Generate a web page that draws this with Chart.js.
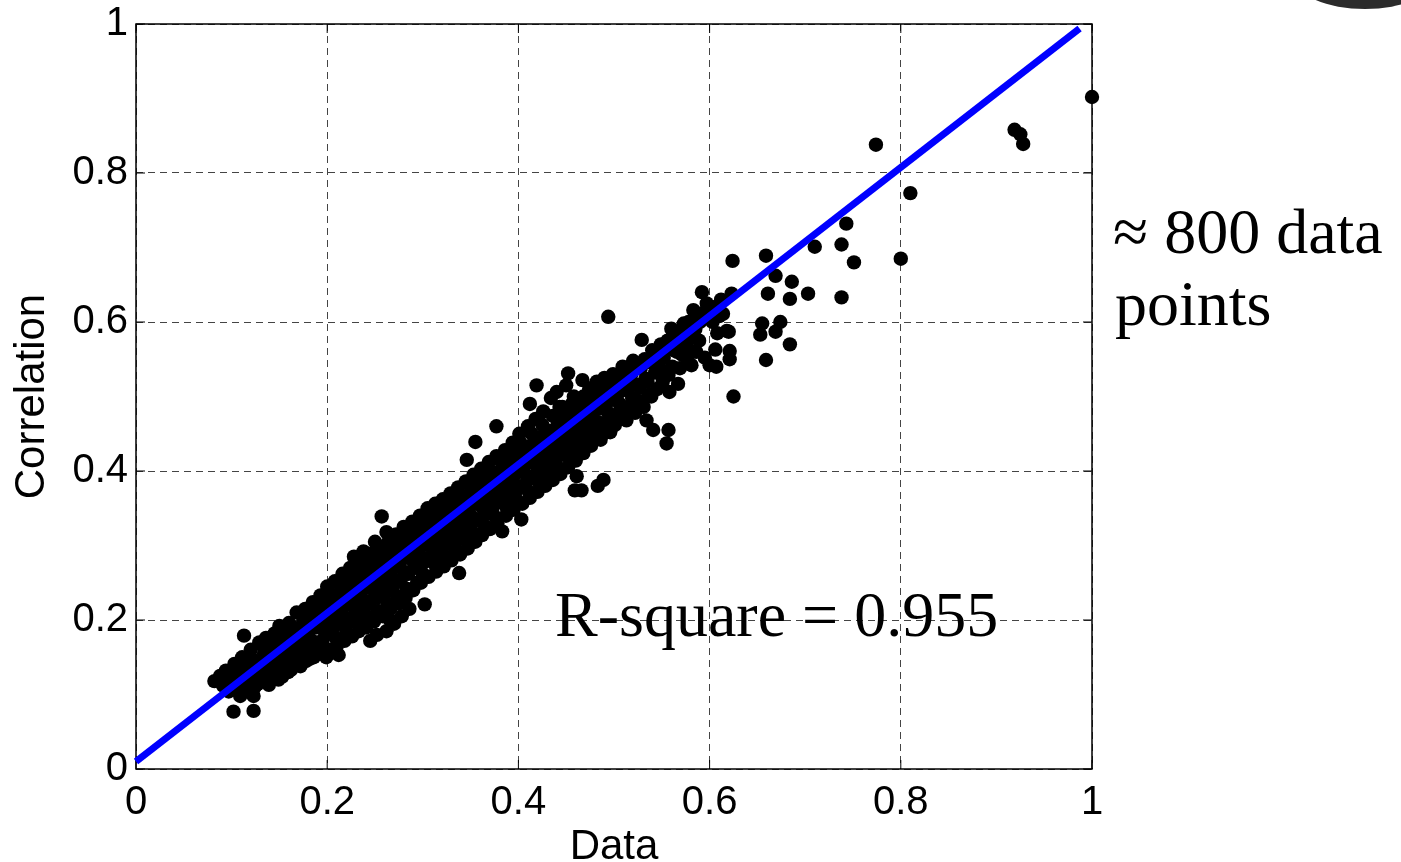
<!DOCTYPE html>
<html>
<head>
<meta charset="utf-8">
<script src="https://cdn.jsdelivr.net/npm/chart.js@4.4.1/dist/chart.umd.min.js"></script>
<style>
  html, body { margin: 0; padding: 0; background: #fff; }
  #wrap { width: 1401px; height: 862px; position: relative; }
</style>
</head>
<body>
<div id="wrap"><canvas id="chart" width="1401" height="862"></canvas></div>
<script>
// tick labels
var xTicks = [0, 0.2, 0.4, 0.6, 0.8, 1];
var yTicks = [0, 0.2, 0.4, 0.6, 0.8, 1];

// fitted line end points
var fitX = [0, 0.987];
var fitY = [0.01, 0.994];

// data points [Data, Correlation]
var pointsLow = [
  [0.082,0.118],[0.088,0.125],[0.091,0.112],[0.094,0.132],[0.097,0.104],[0.099,0.121],[0.102,0.077],[0.103,0.141],
  [0.105,0.110],[0.107,0.128],[0.109,0.098],[0.111,0.150],[0.113,0.179],[0.114,0.118],[0.116,0.136],[0.118,0.107],
  [0.120,0.160],[0.121,0.125],[0.123,0.078],[0.123,0.098],[0.125,0.145],[0.127,0.114],[0.129,0.170],[0.130,0.132],
  [0.132,0.120],[0.134,0.155],[0.136,0.176],[0.137,0.140],[0.139,0.113],[0.141,0.162],[0.143,0.127],[0.145,0.182],
  [0.146,0.148],[0.148,0.135],[0.150,0.192],[0.151,0.167],[0.153,0.124],[0.155,0.155],[0.157,0.140],[0.158,0.178],
  [0.160,0.196],[0.162,0.133],[0.163,0.162],[0.165,0.148],[0.166,0.186],[0.168,0.210],[0.170,0.140],[0.171,0.172],
  [0.173,0.156],[0.175,0.198],[0.177,0.215],[0.178,0.145],[0.180,0.182],[0.181,0.162],[0.183,0.205],[0.185,0.224],
  [0.186,0.150],[0.188,0.190],[0.190,0.170],[0.191,0.213],[0.193,0.233],[0.194,0.155],[0.196,0.198],[0.198,0.180],
  [0.199,0.222],[0.200,0.245]
];
var pointsMid = [
  [0.202,0.160],[0.203,0.205],[0.205,0.186],[0.207,0.230],[0.208,0.252],[0.210,0.165],[0.211,0.212],[0.212,0.153],
  [0.213,0.195],[0.215,0.240],[0.216,0.262],[0.218,0.172],[0.219,0.220],[0.221,0.200],[0.222,0.248],[0.224,0.270],
  [0.226,0.178],[0.227,0.228],[0.229,0.208],[0.230,0.256],[0.232,0.275],[0.233,0.185],[0.235,0.236],[0.236,0.215],
  [0.238,0.262],[0.240,0.282],[0.241,0.190],[0.243,0.244],[0.244,0.222],[0.246,0.270],[0.248,0.290],[0.249,0.198],
  [0.251,0.252],[0.252,0.230],[0.254,0.278],[0.256,0.298],[0.257,0.339],[0.258,0.205],[0.259,0.260],[0.261,0.238],
  [0.262,0.286],[0.264,0.305],[0.265,0.201],[0.266,0.215],[0.268,0.268],[0.269,0.246],[0.271,0.294],[0.272,0.315],
  [0.274,0.222],[0.276,0.276],[0.277,0.254],[0.279,0.302],[0.280,0.325],[0.282,0.230],[0.284,0.284],[0.285,0.262],
  [0.287,0.310],[0.289,0.332],[0.290,0.240],[0.292,0.292],[0.293,0.270],[0.295,0.318],[0.297,0.340],[0.298,0.250],
  [0.300,0.300]
];
var pointsUpperMid = [
  [0.302,0.221],[0.302,0.278],[0.303,0.326],[0.305,0.350],[0.306,0.258],[0.308,0.308],[0.309,0.286],[0.311,0.334],
  [0.313,0.356],[0.314,0.265],[0.316,0.316],[0.317,0.294],[0.319,0.342],[0.321,0.362],[0.322,0.272],[0.324,0.324],
  [0.325,0.302],[0.327,0.350],[0.329,0.370],[0.330,0.280],[0.332,0.332],[0.333,0.310],[0.335,0.358],[0.337,0.378],
  [0.338,0.263],[0.339,0.288],[0.340,0.340],[0.342,0.318],[0.343,0.366],[0.345,0.386],[0.346,0.415],[0.347,0.296],
  [0.348,0.348],[0.350,0.326],[0.351,0.374],[0.353,0.395],[0.355,0.439],[0.355,0.305],[0.356,0.356],[0.358,0.334],
  [0.359,0.382],[0.361,0.403],[0.362,0.314],[0.364,0.364],[0.366,0.342],[0.367,0.390],[0.369,0.412],[0.370,0.322],
  [0.372,0.372],[0.373,0.350],[0.375,0.398],[0.377,0.460],[0.377,0.420],[0.378,0.330],[0.380,0.380],[0.382,0.358],
  [0.383,0.319],[0.384,0.406],[0.386,0.428],[0.387,0.340],[0.389,0.388],[0.390,0.366],[0.392,0.414],[0.394,0.438],
  [0.395,0.348],[0.397,0.396],[0.398,0.374],[0.400,0.422]
];
var pointsHigh = [
  [0.401,0.450],[0.403,0.335],[0.404,0.356],[0.405,0.404],[0.407,0.382],[0.408,0.430],[0.410,0.460],[0.412,0.490],
  [0.412,0.364],[0.413,0.412],[0.415,0.390],[0.416,0.438],[0.418,0.470],[0.419,0.515],[0.420,0.372],[0.421,0.420],
  [0.423,0.398],[0.424,0.446],[0.426,0.480],[0.428,0.380],[0.429,0.428],[0.431,0.406],[0.432,0.454],[0.434,0.498],
  [0.435,0.396],[0.436,0.388],[0.437,0.436],[0.439,0.414],[0.440,0.506],[0.441,0.462],[0.443,0.486],[0.444,0.396],
  [0.445,0.444],[0.447,0.422],[0.448,0.470],[0.450,0.515],[0.452,0.531],[0.452,0.405],[0.453,0.452],[0.455,0.430],
  [0.456,0.478],[0.458,0.500],[0.459,0.374],[0.460,0.414],[0.461,0.393],[0.461,0.460],[0.463,0.438],[0.464,0.486],
  [0.466,0.374],[0.467,0.522],[0.468,0.424],[0.469,0.468],[0.471,0.446],[0.472,0.494],[0.474,0.510],[0.476,0.434],
  [0.477,0.476],[0.479,0.454],[0.480,0.502],[0.483,0.380],[0.482,0.520],[0.484,0.444],[0.485,0.484],[0.487,0.462],
  [0.488,0.510],[0.489,0.388],[0.490,0.525],[0.492,0.452],[0.493,0.492],[0.494,0.607],[0.495,0.470],[0.497,0.458],
  [0.497,0.515],[0.499,0.530]
];
var pointsTop = [
  [0.501,0.462],[0.503,0.500],[0.505,0.478],[0.507,0.522],[0.509,0.540],[0.511,0.470],[0.513,0.468],[0.514,0.508],
  [0.516,0.486],[0.518,0.530],[0.520,0.548],[0.522,0.478],[0.524,0.516],[0.526,0.494],[0.528,0.538],[0.529,0.576],
  [0.531,0.486],[0.533,0.524],[0.534,0.468],[0.536,0.502],[0.538,0.546],[0.540,0.562],[0.541,0.455],[0.543,0.532],
  [0.545,0.510],[0.547,0.554],[0.549,0.570],[0.551,0.520],[0.555,0.437],[0.557,0.455],[0.557,0.529],[0.558,0.506],
  [0.560,0.591],[0.561,0.540],[0.563,0.562],[0.565,0.580],[0.567,0.517],[0.569,0.538],[0.571,0.556],[0.573,0.598],
  [0.575,0.572],[0.577,0.548],[0.579,0.562],[0.581,0.542],[0.583,0.616],[0.585,0.590],[0.587,0.605],[0.589,0.575],
  [0.592,0.640],[0.593,0.612],[0.595,0.552],[0.597,0.625],[0.600,0.620],[0.600,0.542],[0.603,0.600],[0.606,0.563],
  [0.607,0.540],[0.608,0.585],[0.612,0.630],[0.614,0.611],[0.618,0.588],[0.620,0.587],[0.621,0.561],[0.621,0.550],
  [0.623,0.638],[0.624,0.682],[0.625,0.500]
];
// points hidden inside the dense band, between the ones above
var pointsFill = [
  [0.095,0.118],[0.101,0.132],[0.106,0.118],[0.110,0.140],[0.115,0.126],[0.119,0.148],[0.124,0.110],[0.126,0.133],
  [0.131,0.143],[0.133,0.165],[0.135,0.124],[0.138,0.151],[0.142,0.133],[0.144,0.172],[0.147,0.160],[0.149,0.120],
  [0.152,0.141],[0.154,0.180],[0.156,0.168],[0.159,0.130],[0.161,0.150],[0.164,0.190],[0.167,0.174],[0.169,0.158],
  [0.172,0.138],[0.174,0.185],[0.176,0.165],[0.179,0.202],[0.182,0.148],[0.184,0.172],[0.187,0.210],[0.189,0.160],
  [0.192,0.190],[0.195,0.172],[0.197,0.228],[0.199,0.150],
  [0.201,0.240],[0.204,0.218],[0.206,0.196],[0.209,0.176],[0.211,0.250],[0.214,0.228],[0.217,0.205],[0.220,0.185],
  [0.223,0.262],[0.225,0.240],[0.228,0.218],[0.231,0.196],[0.234,0.270],[0.237,0.250],[0.239,0.226],[0.242,0.205],
  [0.245,0.282],[0.247,0.260],[0.250,0.236],[0.253,0.212],[0.255,0.290],[0.258,0.268],[0.260,0.246],[0.263,0.222],
  [0.266,0.300],[0.268,0.278],[0.270,0.254],[0.273,0.232],[0.276,0.310],[0.278,0.288],[0.281,0.264],[0.283,0.242],
  [0.286,0.320],[0.288,0.298],[0.291,0.274],[0.294,0.250],[0.296,0.330],[0.299,0.310],[0.299,0.284],[0.300,0.262],
  [0.262,0.185],[0.270,0.195],[0.278,0.205],[0.286,0.215],[0.245,0.172],[0.252,0.180],
  [0.238,0.292],[0.250,0.305],[0.262,0.318],[0.228,0.285],
  [0.304,0.340],[0.307,0.320],[0.310,0.298],[0.312,0.276],[0.315,0.350],[0.318,0.330],[0.320,0.308],[0.323,0.286],
  [0.326,0.362],[0.328,0.340],[0.331,0.318],[0.334,0.296],[0.336,0.372],[0.339,0.352],[0.341,0.328],[0.344,0.308],
  [0.347,0.384],[0.349,0.362],[0.352,0.338],[0.354,0.316],[0.357,0.394],[0.360,0.372],[0.363,0.350],[0.365,0.326],
  [0.368,0.404],[0.371,0.384],[0.374,0.362],[0.376,0.338],[0.379,0.416],[0.381,0.392],[0.385,0.372],[0.388,0.350],
  [0.391,0.428],[0.393,0.404],[0.396,0.382],[0.399,0.360],
  [0.402,0.438],[0.406,0.416],[0.409,0.394],[0.411,0.372],[0.414,0.450],[0.417,0.426],[0.420,0.404],[0.422,0.384],
  [0.425,0.462],[0.427,0.440],[0.430,0.416],[0.433,0.392],[0.436,0.474],[0.438,0.452],[0.440,0.428],[0.442,0.404],
  [0.446,0.486],[0.449,0.460],[0.451,0.438],[0.454,0.414],[0.457,0.492],[0.460,0.472],[0.462,0.448],[0.465,0.424],
  [0.468,0.500],[0.470,0.480],[0.473,0.456],[0.475,0.434],[0.478,0.512],[0.481,0.490],[0.483,0.466],[0.486,0.442],
  [0.489,0.520],[0.491,0.500],[0.494,0.478],[0.496,0.452],
  [0.502,0.512],[0.506,0.490],[0.510,0.530],[0.515,0.520],[0.519,0.498],[0.523,0.540],[0.527,0.512],[0.532,0.550],
  [0.535,0.520],[0.539,0.500],[0.544,0.560],[0.548,0.538],[0.552,0.552],[0.556,0.575],[0.562,0.585],[0.566,0.560],
  [0.570,0.578],[0.574,0.590],[0.578,0.600],[0.582,0.580],[0.586,0.560],[0.590,0.600],[0.596,0.610],[0.604,0.620],
  [0.610,0.608]
];
var outliers = [
  [0.653,0.583],[0.655,0.598],[0.659,0.549],[0.659,0.689],[0.661,0.638],[0.669,0.662],[0.669,0.587],[0.674,0.600],
  [0.684,0.631],[0.684,0.570],[0.686,0.654],[0.703,0.638],[0.710,0.701],[0.738,0.704],[0.738,0.633],[0.743,0.732],
  [0.751,0.680],[0.774,0.838],[0.800,0.685],[0.810,0.773],[0.919,0.858],[0.925,0.852],[0.928,0.839],[1.000,0.902]
];

var allPoints = pointsLow.concat(pointsMid, pointsUpperMid, pointsHigh, pointsTop, pointsFill, outliers);
var scatterData = allPoints.map(function (p) { return { x: p[0], y: p[1] }; });
var lineData = fitX.map(function (x, i) { return { x: x, y: fitY[i] }; });

var tickFont = { family: 'Liberation Sans, Arial, sans-serif', size: 40 };

// frame, inward ticks and the two text notes
var decorations = {
  id: 'decorations',
  beforeDatasetsDraw: function (chart) {
    var ctx = chart.ctx, a = chart.chartArea;
    var xs = chart.scales.x, ys = chart.scales.y;
    ctx.save();
    ctx.strokeStyle = '#000';
    ctx.lineWidth = 1.5;
    ctx.strokeRect(a.left, a.top, a.right - a.left, a.bottom - a.top);
    ctx.lineWidth = 1;
    ctx.beginPath();
    xTicks.forEach(function (t) {
      var px = xs.getPixelForValue(t);
      ctx.moveTo(px, a.bottom); ctx.lineTo(px, a.bottom - 9);
      ctx.moveTo(px, a.top); ctx.lineTo(px, a.top + 9);
    });
    yTicks.forEach(function (t) {
      var py = ys.getPixelForValue(t);
      ctx.moveTo(a.left, py); ctx.lineTo(a.left + 9, py);
      ctx.moveTo(a.right, py); ctx.lineTo(a.right - 9, py);
    });
    ctx.stroke();
    ctx.restore();
  },
  afterDraw: function (chart) {
    var ctx = chart.ctx;
    ctx.save();
    ctx.fillStyle = '#000';
    ctx.textBaseline = 'alphabetic';
    ctx.font = '64px "Liberation Serif", "Times New Roman", serif';
    ctx.fillText('\u2248 800 data', 1113, 253);
    ctx.fillText('points', 1115, 325);
    ctx.fillText('R-square = 0.955', 555, 636);
    // dark corner of something cut off at the top right
    ctx.fillStyle = '#2b2b2b';
    ctx.beginPath();
    ctx.ellipse(1365, -22, 70, 31, 0, 0, Math.PI * 2);
    ctx.fill();
    ctx.restore();
  }
};

window.onload = function () {
  new Chart(document.getElementById('chart'), {
    type: 'scatter',
    data: {
      datasets: [{
        type: 'line',
        data: lineData,
        borderColor: '#0000ff',
        borderWidth: 7,
        pointRadius: 0,
        fill: false,
        order: 0,
        clip: false
      }, {
        data: scatterData,
        backgroundColor: '#000',
        borderWidth: 0,
        pointRadius: 7.2,
        order: 1,
        clip: false
      }]
    },
    options: {
      responsive: false,
      animation: false,
      events: [],
      layout: { padding: { left: 0, top: 24, right: 309, bottom: 0 } },
      plugins: { legend: { display: false }, tooltip: { enabled: false } },
      scales: {
        x: {
          type: 'linear', min: 0, max: 1,
          afterFit: function (s) { s.height = 862 - 769; },
          afterBuildTicks: function (s) { s.ticks = xTicks.map(function (v) { return { value: v }; }); },
          grid: { color: '#444', lineWidth: 1, drawTicks: false },
          border: { display: false, dash: [7, 5] },
          ticks: { color: '#000', font: tickFont, padding: 10, maxRotation: 0,
                   callback: function (v) { return String(v); } },
          title: { display: true, text: 'Data', color: '#000', padding: 0,
                   font: { family: 'Liberation Sans, Arial, sans-serif', size: 42, lineHeight: 0.7 } }
        },
        y: {
          type: 'linear', min: 0, max: 1,
          afterFit: function (s) { s.width = 136; s.paddingTop = 0; s.paddingBottom = 0; },
          afterBuildTicks: function (s) { s.ticks = yTicks.map(function (v) { return { value: v }; }); },
          grid: { color: '#444', lineWidth: 1, drawTicks: false },
          border: { display: false, dash: [7, 5] },
          ticks: { color: '#000', font: tickFont, padding: 8,
                   callback: function (v) { return String(v); } },
          title: { display: true, text: 'Correlation', color: '#000', padding: { top: 7, bottom: 0 },
                   font: { family: 'Liberation Sans, Arial, sans-serif', size: 42, lineHeight: 1.2 } }
        }
      }
    },
    plugins: [decorations]
  });
};
</script>
</body>
</html>
